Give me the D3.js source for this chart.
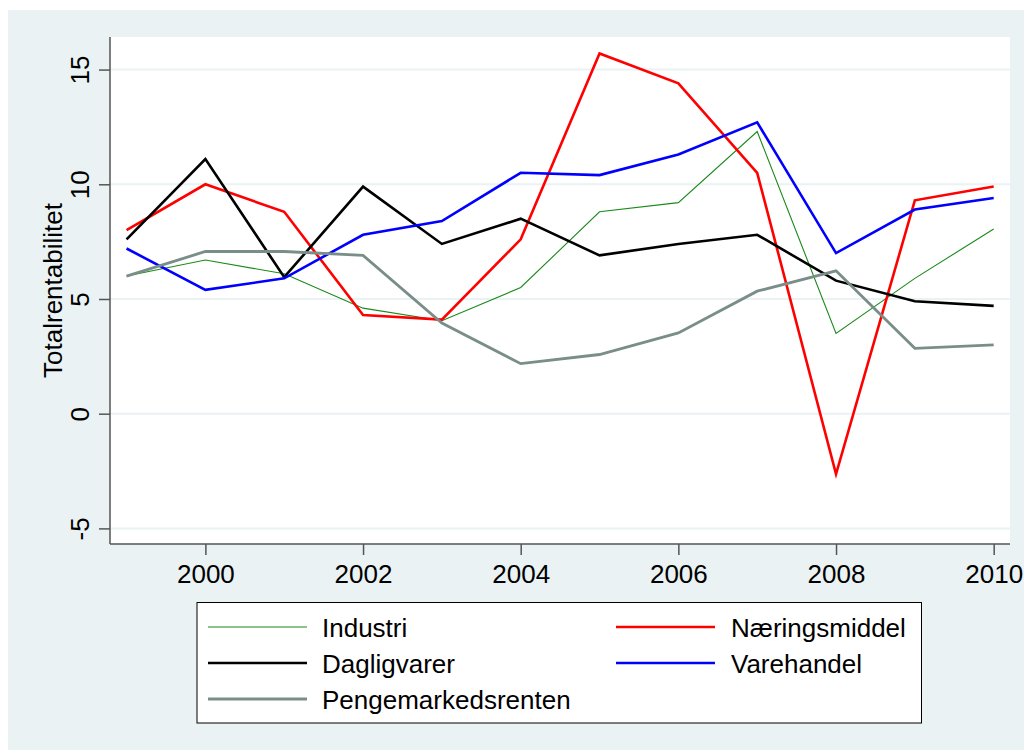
<!DOCTYPE html>
<html>
<head>
<meta charset="utf-8">
<script src="https://cdn.jsdelivr.net/npm/d3@7"></script>
<style>
  body { margin: 0; background: #fff; }
  svg { display: block; font-family: "Liberation Sans", Arial, sans-serif; }
</style>
</head>
<body>
<div id="wrapper"></div>
<script>
const width = 1024,
    height = 751;

// data
const years = [1999, 2000, 2001, 2002, 2003, 2004, 2005, 2006, 2007, 2008, 2009, 2010];
const industri = [6.0, 6.7, 6.1, 4.6, 4.05, 5.5, 8.8, 9.2, 12.3, 3.5, 5.9, 8.05];
const naeringsmiddel = [8.0, 10.0, 8.8, 4.3, 4.1, 7.6, 15.7, 14.4, 10.5, -2.63, 9.3, 9.9];
const dagligvarer = [7.6, 11.1, 5.95, 9.9, 7.4, 8.5, 6.9, 7.4, 7.8, 5.8, 4.9, 4.7];
const varehandel = [7.2, 5.4, 5.9, 7.8, 8.4, 10.5, 10.4, 11.3, 12.7, 7.0, 8.9, 9.4];
const pengemarked = [6.0, 7.07, 7.07, 6.9, 3.95, 2.18, 2.58, 3.52, 5.34, 6.23, 2.85, 3.0];

const yTicks = [-5, 0, 5, 10, 15];
const xTicks = [2000, 2002, 2004, 2006, 2008, 2010];

const series = [
    {name: "Industri", values: industri, color: "#1a8a1a", w: 1.1},
    {name: "Næringsmiddel", values: naeringsmiddel, color: "#ff0000", w: 2.6},
    {name: "Dagligvarer", values: dagligvarer, color: "#000000", w: 2.6},
    {name: "Varehandel", values: varehandel, color: "#0000ff", w: 2.6},
    {name: "Pengemarkedsrenten", values: pengemarked, color: "#7a8e89", w: 2.8}
];

const plot = {left: 110, right: 1010, top: 37, bottom: 544};
const fontSize = "26px";

const svg = d3.select("#wrapper")
    .append("svg")
    .attr("width", width)
    .attr("height", height);

// outer graph region
svg.append("rect")
    .attr("x", 8).attr("y", 10)
    .attr("width", width - 8).attr("height", height - 11)
    .attr("fill", "#eaf2f3");

svg.append("rect")
    .attr("x", plot.left).attr("y", plot.top)
    .attr("width", plot.right - plot.left).attr("height", plot.bottom - plot.top)
    .attr("fill", "#ffffff");

const x = d3.scaleLinear()
    .domain([1998.79, 2010.207])
    .range([plot.left, plot.right]);

const y = d3.scaleLinear()
    .domain([-5.68, 16.42])
    .range([plot.bottom, plot.top]);

// gridlines
svg.append("g")
    .selectAll("line")
    .data(yTicks)
    .enter().append("line")
    .attr("x1", plot.left).attr("x2", plot.right)
    .attr("y1", d => y(d)).attr("y2", d => y(d))
    .style("stroke", "#eaf2f3")
    .style("stroke-width", 2);

// y axis
const yAxis = svg.append("g")
    .attr("transform", "translate(" + plot.left + ",0)")
    .call(d3.axisLeft(y).tickValues(yTicks).tickFormat(d => String(d)).tickSize(11).tickSizeOuter(0));
yAxis.select(".domain").attr("d", "M0," + plot.top + "V" + plot.bottom).style("stroke", "#555").style("stroke-width", 1.5);
yAxis.selectAll(".tick line").style("stroke", "#555").style("stroke-width", 1.5);
yAxis.selectAll(".tick text")
    .attr("x", null).attr("dy", null)
    .attr("transform", "translate(-21,0) rotate(-90)")
    .style("font-size", fontSize)
    .style("fill", "#000")
    .style("text-anchor", "middle");

// x axis
const xAxis = svg.append("g")
    .attr("transform", "translate(0," + plot.bottom + ")")
    .call(d3.axisBottom(x).tickValues(xTicks).tickFormat(d3.format("d")).tickSize(11).tickSizeOuter(0));
xAxis.select(".domain").attr("d", "M" + plot.left + ",0H" + plot.right).style("stroke", "#555").style("stroke-width", 1.5);
xAxis.selectAll(".tick line").style("stroke", "#555").style("stroke-width", 1.5);
xAxis.selectAll(".tick text")
    .attr("y", 39).attr("dy", null)
    .style("font-size", fontSize)
    .style("fill", "#000");

// y title
svg.append("text")
    .attr("transform", "translate(62," + ((plot.top + plot.bottom) / 2) + ") rotate(-90)")
    .attr("text-anchor", "middle")
    .style("font-size", fontSize)
    .text("Totalrentabilitet");

// lines
const line = d3.line()
    .x((d, i) => x(years[i]))
    .y(d => y(d));

svg.append("g")
    .selectAll("path")
    .data(series)
    .enter().append("path")
    .attr("d", d => line(d.values))
    .attr("fill", "none")
    .style("stroke", d => d.color)
    .style("stroke-width", d => d.w)
    .style("stroke-linejoin", "miter");

// legend
const legend = svg.append("g");
legend.append("rect")
    .attr("x", 197).attr("y", 602.5)
    .attr("width", 724.5).attr("height", 120.5)
    .attr("fill", "#fff")
    .style("stroke", "#000")
    .style("stroke-width", 1);

const legendPos = [
    {col: 0, row: 0}, {col: 1, row: 0},
    {col: 0, row: 1}, {col: 1, row: 1},
    {col: 0, row: 2}
];
const colX = [208, 616], rowY = [627, 663, 699];

const items = legend.selectAll("g.item")
    .data(series)
    .enter().append("g")
    .attr("class", "item")
    .attr("transform", (d, i) => "translate(" + colX[legendPos[i].col] + "," + rowY[legendPos[i].row] + ")");

items.append("line")
    .attr("x1", 0).attr("x2", 99)
    .style("stroke", d => d.color)
    .style("stroke-width", d => d.w);

items.append("text")
    .attr("x", (d, i) => legendPos[i].col === 0 ? 114 : 115)
    .attr("y", 10)
    .style("font-size", fontSize)
    .text(d => d.name);
</script>
</body>
</html>
